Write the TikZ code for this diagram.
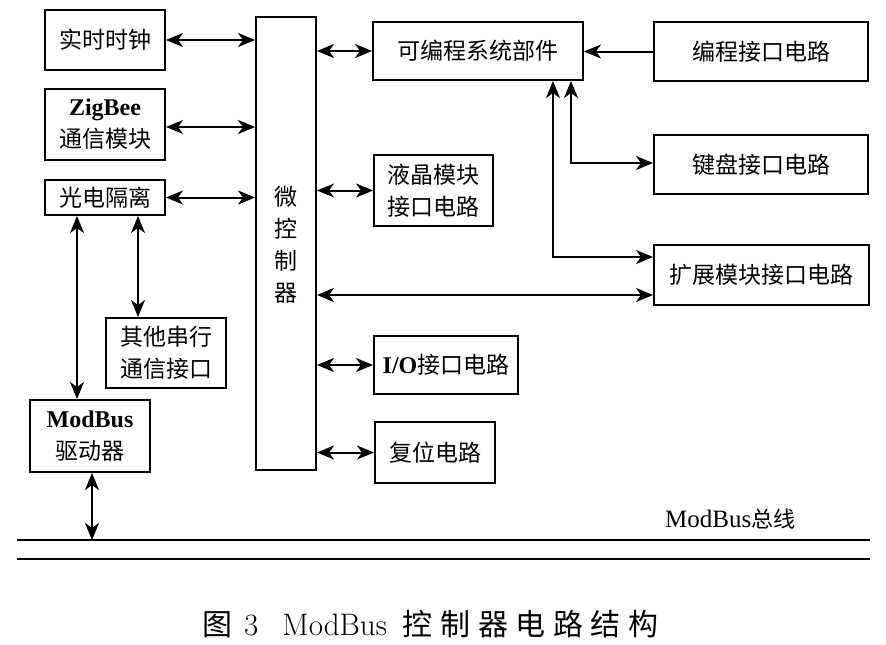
\documentclass[tikz,border=0pt]{standalone}
\usepackage{fontspec}
\newfontfamily\cjk{Noto Sans CJK SC}
\newfontfamily\tnr{Liberation Serif}
\usetikzlibrary{arrows.meta,calc}
\begin{document}
\begin{tikzpicture}[x=1pt,y=-1pt,
  box/.style={draw,line width=2pt,align=center,inner sep=0pt,
    font=\fontsize{23}{32}\selectfont\cjk},
  dbl/.style={line width=2pt,{Stealth[length=17pt,width=14pt,inset=5pt]}-{Stealth[length=17pt,width=14pt,inset=5pt]}},
  sgl/.style={line width=2pt,-{Stealth[length=17pt,width=14pt,inset=5pt]}},
  bus/.style={line width=2pt},
]
\useasboundingbox[fill=white] (0,0) rectangle (886,645);

% left column
\node[box,minimum width=120pt,minimum height=60pt] (rtc) at (105,40) {实时时钟};
\node[box,minimum width=120pt,minimum height=71pt] (zig) at (105,124.5) {{\tnr\bfseries\fontsize{24}{32}\selectfont ZigBee}\\通信模块};
\node[box,minimum width=120pt,minimum height=35pt] (opto) at (105,197.5) {光电隔离};
\node[box,minimum width=120pt,minimum height=70pt] (other) at (166,353) {其他串行\\通信接口};
\node[box,minimum width=120pt,minimum height=72pt] (mbd) at (90,436) {{\tnr\bfseries\fontsize{24}{32}\selectfont ModBus}\\驱动器};

% microcontroller
\node[box,minimum width=60pt,minimum height=453pt] (mcu) at (286,243.5) {};
\node[font=\fontsize{23}{32}\selectfont\cjk,align=center,inner sep=0pt] (mcutxt) at (286,245) {微\\控\\制\\器};

% middle column
\node[box,minimum width=210pt,minimum height=58pt] (prog) at (478,51) {可编程系统部件};
\node[box,minimum width=119pt,minimum height=71pt] (lcd) at (433.5,190.5) {液晶模块\\接口电路};
\node[box,minimum width=144pt,minimum height=58pt] (io) at (446,365) {{\tnr\bfseries\fontsize{24}{32}\selectfont I/O}接口电路};
\node[box,minimum width=120pt,minimum height=61pt] (rst) at (435,452.5) {复位电路};

% right column
\node[box,minimum width=214pt,minimum height=59pt] (pif) at (761,51.5) {编程接口电路};
\node[box,minimum width=214pt,minimum height=59pt] (kbd) at (761,164.5) {键盘接口电路};
\node[box,minimum width=215pt,minimum height=60pt] (ext) at (761.5,275) {扩展模块接口电路};

% connectors to the microcontroller
\draw[dbl] (rtc.east) -- (rtc.east -| mcu.west);
\draw[dbl] ([yshift=-2.5pt]zig.east) -- ([yshift=-2.5pt]zig.east -| mcu.west);
\draw[dbl] (opto.east) -- (opto.east -| mcu.west);
\draw[dbl] (prog.west -| mcu.east) -- (prog.west);
\draw[dbl] (lcd.west -| mcu.east) -- (lcd.west);
\coordinate (e2) at ([yshift=-20pt]ext.west);
\draw[dbl] (e2 -| mcu.east) -- (e2);
\draw[dbl] (io.west -| mcu.east) -- (io.west);
\draw[dbl] (rst.west -| mcu.east) -- (rst.west);

% right side
\draw[sgl] (pif.west) -- (pif.west -| prog.east);
\coordinate (k0) at ([xshift=93pt]prog.south);
\draw[dbl] (k0) |- ([yshift=1.5pt]kbd.west);
\coordinate (x0) at ([xshift=75pt]prog.south);
\draw[dbl] (x0) |- ([yshift=18pt]ext.west);

% opto-isolator branches
\coordinate (o1) at ([xshift=-28pt]opto.south);
\coordinate (o2) at ([xshift=33pt]opto.south);
\draw[dbl] (o1) -- (o1 |- mbd.north);
\draw[dbl] (o2) -- (o2 |- other.north);

% bus
\coordinate (b1l) at (17,540);
\coordinate (b1r) at (870,540);
\coordinate (b2l) at (17,559);
\coordinate (b2r) at (870,559);
\draw[bus] (b1l) -- (b1r);
\draw[bus] (b2l) -- (b2r);
\draw[dbl] ([xshift=2pt]mbd.south) -- ([xshift=2pt]mbd.south |- b1l);
\node[inner sep=0pt,anchor=west] (buslbl) at (665,519) {{\tnr\fontsize{25}{30}\selectfont ModBus}{\cjk\fontsize{22}{30}\selectfont 总线}};

% caption
\node[inner sep=0pt,anchor=west,font=\fontsize{31}{36}\selectfont] (cap) at (202,624)
  {{\cjk\fontsize{30}{36}\selectfont 图}\hspace{12pt}3\hspace{24pt}ModBus\hspace{16pt}{\cjk\fontsize{30}{36}\selectfont 控\hspace{7.6pt}制\hspace{7.6pt}器\hspace{7.6pt}电\hspace{7.6pt}路\hspace{7.6pt}结\hspace{7.6pt}构}};
\end{tikzpicture}
\end{document}
